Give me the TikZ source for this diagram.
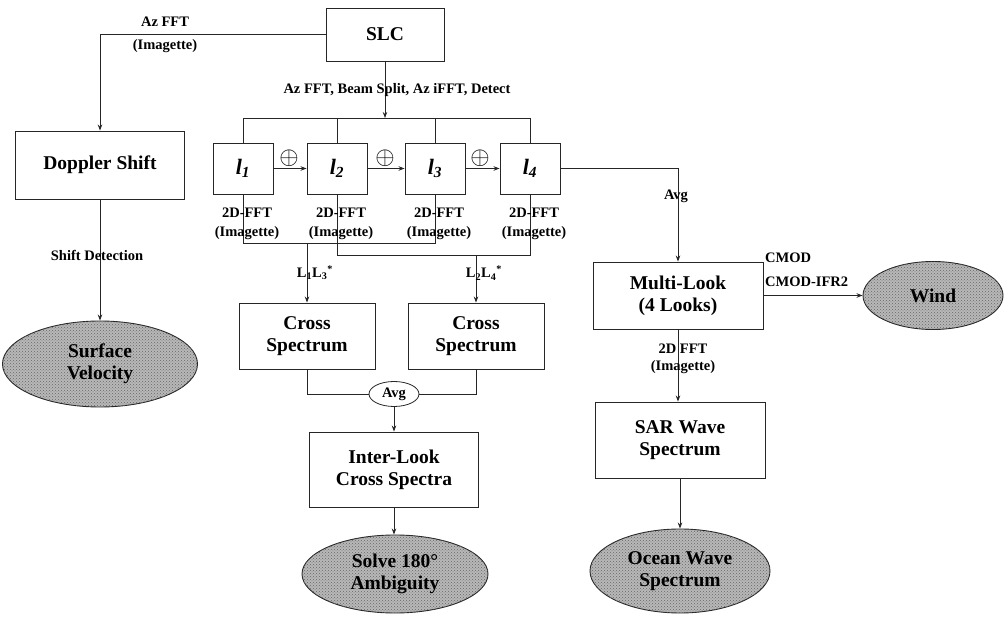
\documentclass[tikz,border=0pt]{standalone}
\usepackage{fontspec}
\setmainfont{Liberation Serif}
\usetikzlibrary{shapes.geometric,arrows.meta,patterns}
\newcommand\boxfont{\fontsize{19.5}{22}\selectfont\bfseries}
\newcommand\lblfont{\fontsize{14.5}{17}\selectfont\bfseries}
\newcommand\lookfont{\fontsize{22}{24}\selectfont\bfseries\itshape}
\tikzset{
  box/.style={draw=black!85, line width=0.9pt, font=\boxfont, align=center, inner sep=0pt},
  lbox/.style={box, font=\lookfont, minimum width=60pt, minimum height=51pt},
  blob/.style={ellipse, draw=black!85, line width=0.9pt, fill=black!28,
    postaction={pattern=crosshatch dots, pattern color=black!60},
    font=\boxfont, align=center, inner sep=0pt},
  lbl/.style={font=\lblfont, inner sep=0pt, align=center},
  conn/.style={line width=0.8pt, draw=black!85},
  arr/.style={conn, -{Stealth[length=6pt,width=4.5pt]}}
}
\begin{document}
\begin{tikzpicture}[x=1pt,y=-1pt]
\useasboundingbox (0,0) rectangle (1005,617);
% nodes
\node[box, minimum width=118pt, minimum height=53pt] (slc) at (385,34.5) {SLC};
\node[box, minimum width=169pt, minimum height=68pt] (dop) at (100,165) {Doppler Shift};
\node[blob, minimum width=195pt, minimum height=86pt] (sv) at (100,364) {Surface\\Velocity};
\node[lbox] (l1) at (243,168.5) {l\textsubscript{1}};
\node[lbox] (l2) at (337,168.5) {l\textsubscript{2}};
\node[lbox] (l3) at (435,168.5) {l\textsubscript{3}};
\node[lbox] (l4) at (530,168.5) {l\textsubscript{4}};
\node[box, minimum width=136pt, minimum height=66pt] (cs1) at (307,336) {Cross\\Spectrum};
\node[box, minimum width=136pt, minimum height=66pt] (cs2) at (476,336) {Cross\\Spectrum};
\node[ellipse, draw=black!85, line width=0.8pt, minimum width=50pt, minimum height=25pt, font=\lblfont, inner sep=0pt] (avg) at (394,394) {Avg};
\node[box, minimum width=169pt, minimum height=75pt] (il) at (394,469.5) {Inter-Look\\Cross Spectra};
\node[blob, minimum width=186pt, minimum height=78pt] (solve) at (395,574) {Solve 180°\\Ambiguity};
\node[box, minimum width=170pt, minimum height=67pt] (ml) at (678,295.5) {Multi-Look\\(4 Looks)};
\node[box, minimum width=170pt, minimum height=76pt] (sar) at (680,440) {SAR Wave\\Spectrum};
\node[blob, minimum width=180pt, minimum height=84pt] (ocean) at (680,571) {Ocean Wave\\Spectrum};
\node[blob, minimum width=140pt, minimum height=68pt] (wind) at (933,295.5) {Wind};
% plus signs
\node[inner sep=0pt] (p1) at (289,158) {\fontsize{23}{23}\selectfont$\oplus$};
\node[inner sep=0pt] (p2) at (385,158) {\fontsize{23}{23}\selectfont$\oplus$};
\node[inner sep=0pt] (p3) at (480,158) {\fontsize{23}{23}\selectfont$\oplus$};
% coordinates
\coordinate (bus) at (385,118);
\coordinate (j1) at (307,243);
\coordinate (j2) at (476,255);
% connectors
\draw[arr] (slc.west) -| (dop.north);
\draw[arr] (dop.south) -- (sv.north);
\draw[arr] (slc.south) -- (bus);
\draw[conn] (l1.north) -- (l1.north |- bus) -- (l4.north |- bus) -- (l4.north);
\draw[conn] (l2.north) -- (l2.north |- bus);
\draw[conn] (l3.north) -- (l3.north |- bus);
\draw[arr] (l1) -- (l2);
\draw[arr] (l2) -- (l3);
\draw[arr] (l3) -- (l4);
\draw[arr] (l4.east) -| (ml.north);
\draw[conn] (l1.south) -- (l1.south |- j1) -- (l3.south |- j1) -- (l3.south);
\draw[arr] (j1) -- (j1 |- cs1.north);
\draw[conn] (l2.south) -- (l2.south |- j2) -- (l4.south |- j2) -- (l4.south);
\draw[arr] (j2) -- (j2 |- cs2.north);
\draw[conn] (cs1.south) |- (avg.west);
\draw[conn] (cs2.south) |- (avg.east);
\draw[arr] (avg.south) -- (il.north);
\draw[arr] (il.south) -- (il.south |- solve.north);
\draw[arr] (ml.south) -- (ml.south |- sar.north);
\draw[arr] (sar.south) -- (ocean.north);
\draw[arr] (ml.east) -- (wind.west);
% labels
\node[lbl] (azfft) at (165,22) {Az FFT};
\node[lbl] (azimg) at (165,46) {(Imagette)};
\node[lbl] (beam) at (397,90) {Az FFT, Beam Split, Az iFFT, Detect};
\node[lbl] (shdet) at (97,255) {Shift Detection};
\node[lbl] (fa1) at (247,213) {2D-FFT};
\node[lbl] (fb1) at (247,233) {(Imagette)};
\node[lbl] (fa2) at (341,213) {2D-FFT};
\node[lbl] (fb2) at (341,233) {(Imagette)};
\node[lbl] (fa3) at (439,213) {2D-FFT};
\node[lbl] (fb3) at (439,233) {(Imagette)};
\node[lbl] (fa4) at (534,213) {2D-FFT};
\node[lbl] (fb4) at (534,233) {(Imagette)};
\node[lbl] (lx1) at (315,273) {L\textsubscript{1}L\textsubscript{3}\textsuperscript{*}};
\node[lbl] (lx2) at (484,273) {L\textsubscript{2}L\textsubscript{4}\textsuperscript{*}};
\node[lbl] (avgl) at (676,196) {Avg};
\node[lbl] (fft2) at (683,349) {2D FFT};
\node[lbl] (img2) at (683,367) {(Imagette)};
\node[lbl, anchor=west] (cmod) at (765,258) {CMOD};
\node[lbl, anchor=west] (cmod2) at (765,282) {CMOD-IFR2};
\end{tikzpicture}
\end{document}
